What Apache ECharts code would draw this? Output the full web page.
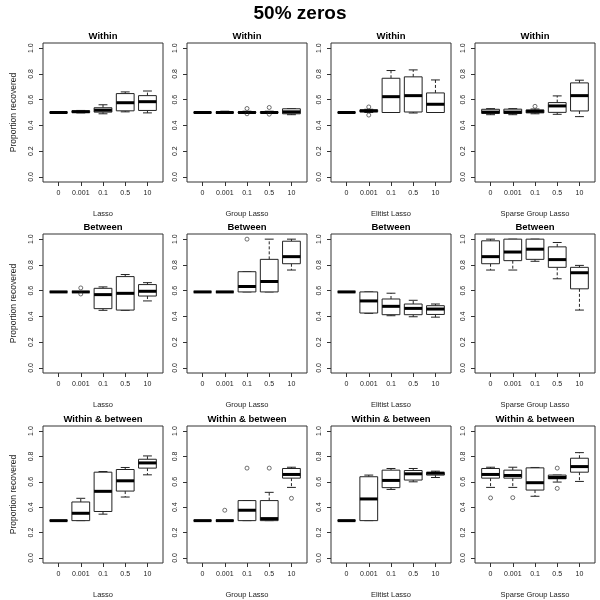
<!DOCTYPE html>
<html>
<head>
<meta charset="utf-8">
<script src="https://cdn.jsdelivr.net/npm/echarts@6/dist/echarts.min.js"></script>
<style>html,body{margin:0;padding:0;background:#fff}#c{width:600px;height:600px}</style>
</head>
<body>
<div id="c"></div>
<script>
// ---- categories / labels ----
const xCats = ['0', '0.001', '0.1', '0.5', '10'];
const methods = ['Lasso', 'Group Lasso', 'Elitist Lasso', 'Sparse Group Lasso'];
const rowTitles = ['Within', 'Between', 'Within & between'];
const yTicks = [0, 0.2, 0.4, 0.6, 0.8, 1.0];
const mainTitle = '50% zeros';

// ---- box stats per category: [min, q1, median, q3, max] ----
const withinLasso   = [[0.5,0.5,0.5,0.5,0.5],[0.497,0.5,0.506,0.513,0.516],[0.49,0.503,0.518,0.537,0.56],[0.505,0.513,0.576,0.647,0.66],[0.497,0.516,0.584,0.631,0.667]];
const withinGroup   = [[0.5,0.5,0.5,0.5,0.5],[0.5,0.5,0.5,0.5,0.51],[0.495,0.497,0.5,0.505,0.51],[0.495,0.497,0.5,0.505,0.51],[0.483,0.49,0.505,0.529,0.53]];
const withinElitist = [[0.5,0.5,0.5,0.5,0.5],[0.5,0.505,0.513,0.52,0.525],[0.5,0.5,0.623,0.766,0.826],[0.496,0.504,0.631,0.777,0.831],[0.5,0.5,0.564,0.652,0.753]];
const withinSparse  = [[0.483,0.493,0.503,0.525,0.53],[0.483,0.492,0.503,0.526,0.53],[0.49,0.497,0.509,0.52,0.527],[0.486,0.501,0.551,0.577,0.629],[0.468,0.512,0.631,0.73,0.751]];

const betweenLasso   = [[0.59,0.59,0.59,0.59,0.59],[0.59,0.59,0.59,0.59,0.59],[0.447,0.46,0.569,0.618,0.629],[0.447,0.449,0.579,0.709,0.725],[0.52,0.558,0.595,0.647,0.662]];
const betweenGroup   = [[0.59,0.59,0.59,0.59,0.59],[0.59,0.59,0.59,0.59,0.59],[0.59,0.59,0.632,0.747,0.747],[0.59,0.59,0.671,0.843,1.0],[0.76,0.809,0.864,0.984,1.0]];
const betweenElitist = [[0.59,0.59,0.59,0.59,0.59],[0.424,0.426,0.52,0.59,0.59],[0.405,0.413,0.478,0.535,0.58],[0.397,0.413,0.462,0.496,0.525],[0.394,0.415,0.457,0.483,0.496]];
const betweenSparse  = [[0.76,0.809,0.864,0.987,1.0],[0.76,0.833,0.9,1.0,1.0],[0.828,0.843,0.922,1.0,1.0],[0.692,0.781,0.841,0.94,0.974],[0.449,0.614,0.739,0.781,0.796]];

const bothLasso   = [[0.294,0.294,0.294,0.294,0.294],[0.294,0.294,0.352,0.441,0.47],[0.345,0.366,0.525,0.676,0.681],[0.48,0.527,0.608,0.697,0.713],[0.655,0.708,0.749,0.778,0.804]];
const bothGroup   = [[0.294,0.294,0.294,0.294,0.294],[0.294,0.294,0.294,0.294,0.294],[0.294,0.294,0.376,0.452,0.452],[0.294,0.294,0.31,0.452,0.517],[0.556,0.629,0.658,0.705,0.715]];
const bothElitist = [[0.294,0.294,0.294,0.294,0.294],[0.294,0.294,0.465,0.64,0.653],[0.54,0.554,0.611,0.692,0.705],[0.6,0.614,0.663,0.689,0.705],[0.634,0.653,0.668,0.674,0.684]];
const bothSparse  = [[0.556,0.629,0.658,0.705,0.715],[0.556,0.629,0.65,0.692,0.715],[0.486,0.535,0.593,0.71,0.713],[0.598,0.624,0.634,0.653,0.653],[0.603,0.676,0.72,0.786,0.83]];

// ---- outliers: [category position (1-5), value] ----
const withinLassoOut   = [];
const withinGroupOut   = [[3,0.531],[3,0.49],[4,0.539],[4,0.487]];
const withinElitistOut = [[2,0.543],[2,0.48]];
const withinSparseOut  = [[3,0.548]];
const betweenLassoOut   = [[2,0.621],[2,0.574]];
const betweenGroupOut   = [[3,1.0]];
const betweenElitistOut = [];
const betweenSparseOut  = [];
const bothLassoOut   = [];
const bothGroupOut   = [[2,0.376],[3,0.708],[4,0.708],[5,0.47]];
const bothElitistOut = [];
const bothSparseOut  = [[1,0.473],[2,0.475],[4,0.708],[4,0.548]];

const panelStats = [
  [withinLasso, withinGroup, withinElitist, withinSparse],
  [betweenLasso, betweenGroup, betweenElitist, betweenSparse],
  [bothLasso, bothGroup, bothElitist, bothSparse]
];
const panelOut = [
  [withinLassoOut, withinGroupOut, withinElitistOut, withinSparseOut],
  [betweenLassoOut, betweenGroupOut, betweenElitistOut, betweenSparseOut],
  [bothLassoOut, bothGroupOut, bothElitistOut, bothSparseOut]
];

// ---- layout ----
const colLeft = [43, 187, 331, 475];
const rowTop = [43, 234, 426];
const gw = 120, gh = 139;
const FONT = 'Liberation Sans, Arial, Helvetica, sans-serif';
const INK = '#222';

function renderBox(params, api) {
  const x = api.value(0);
  const lo = api.coord([x, api.value(1)]);
  const q1 = api.coord([x, api.value(2)]);
  const md = api.coord([x, api.value(3)]);
  const q3 = api.coord([x, api.value(4)]);
  const hi = api.coord([x, api.value(5)]);
  const bw = api.size([0.8, 0])[0];
  const sw = api.size([0.4, 0])[0];
  const cx = lo[0];
  const line = (x1, y1, x2, y2, extra) => ({
    type: 'line', shape: {x1, y1, x2, y2},
    style: Object.assign({stroke: INK, lineWidth: 1}, extra || {})
  });
  return {
    type: 'group',
    children: [
      line(cx, q3[1], cx, hi[1], {lineDash: [3, 2]}),
      line(cx, q1[1], cx, lo[1], {lineDash: [3, 2]}),
      line(cx - sw / 2, hi[1], cx + sw / 2, hi[1]),
      line(cx - sw / 2, lo[1], cx + sw / 2, lo[1]),
      {type: 'rect', shape: {x: cx - bw / 2, y: q3[1], width: bw, height: q1[1] - q3[1]},
       style: {fill: '#fff', stroke: INK, lineWidth: 1}},
      line(cx - bw / 2, md[1], cx + bw / 2, md[1], {lineWidth: 3, stroke: '#000'})
    ]
  };
}

const grids = [], xAxes = [], yAxes = [], series = [];
const titles = [{
  text: mainTitle, left: 300, top: 4, textAlign: 'center', padding: 0,
  textStyle: {fontFamily: FONT, fontSize: 19, fontWeight: 'bold', color: '#000'}
}];

let idx = 0;
for (let r = 0; r < 3; r++) {
  for (let c = 0; c < 4; c++) {
    grids.push({left: colLeft[c], top: rowTop[r], width: gw, height: gh,
      show: true, borderColor: '#333', borderWidth: 1, backgroundColor: 'transparent'});
    xAxes.push({
      type: 'value', gridIndex: idx, min: 0.3, max: 5.7,
      axisLine: {show: false, onZero: false},
      splitLine: {show: false},
      axisTick: {show: true, customValues: [1, 2, 3, 4, 5], length: 4, lineStyle: {color: '#333'}},
      axisLabel: {customValues: [1, 2, 3, 4, 5], formatter: v => xCats[Math.round(v) - 1],
        fontFamily: FONT, fontSize: 7, color: INK, margin: 8},
      name: methods[c], nameLocation: 'middle', nameGap: 28,
      nameTextStyle: {fontFamily: FONT, fontSize: 7.5, color: INK}
    });
    const ya = {
      type: 'value', gridIndex: idx, min: -0.04, max: 1.04,
      axisLine: {show: false, onZero: false},
      splitLine: {show: false},
      axisTick: {show: true, customValues: yTicks, length: 4, lineStyle: {color: '#333'}},
      axisLabel: {customValues: yTicks, formatter: v => v.toFixed(1), rotate: 90,
        fontFamily: FONT, fontSize: 7, color: INK, margin: 8}
    };
    if (c === 0) {
      ya.name = 'Proportion recovered';
      ya.nameLocation = 'middle';
      ya.nameGap = 25;
      ya.nameTextStyle = {fontFamily: FONT, fontSize: 8.5, color: INK};
    }
    yAxes.push(ya);
    titles.push({
      text: rowTitles[r], left: colLeft[c] + gw / 2, top: rowTop[r] - 12, textAlign: 'center', padding: 0,
      textStyle: {fontFamily: FONT, fontSize: 9.5, fontWeight: 'bold', color: '#000'}
    });
    const stats = panelStats[r][c];
    series.push({
      type: 'custom', xAxisIndex: idx, yAxisIndex: idx,
      renderItem: renderBox,
      encode: {x: 0, y: [1, 2, 3, 4, 5]},
      data: stats.map((s, i) => [i + 1].concat(s)),
      silent: true, animation: false
    });
    series.push({
      type: 'scatter', xAxisIndex: idx, yAxisIndex: idx,
      data: panelOut[r][c],
      symbol: 'circle', symbolSize: 4,
      itemStyle: {color: 'rgba(0,0,0,0)', borderColor: INK, borderWidth: 0.8},
      silent: true, animation: false
    });
    idx++;
  }
}

const chart = echarts.init(document.getElementById('c'), null, {renderer: 'canvas'});
chart.setOption({
  backgroundColor: '#fff',
  animation: false,
  title: titles,
  grid: grids,
  xAxis: xAxes,
  yAxis: yAxes,
  series: series
});
</script>
</body>
</html>
